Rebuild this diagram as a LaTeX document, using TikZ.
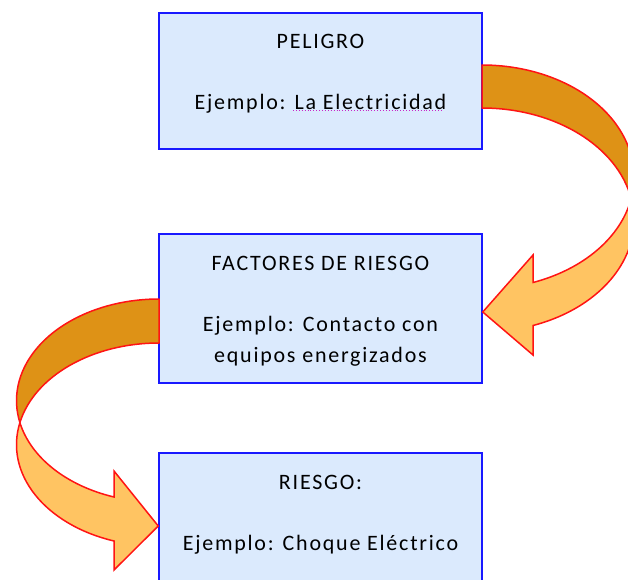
\documentclass[tikz,border=0pt]{standalone}
\usepackage{fontspec}
\setmainfont{Carlito}
\newfontfamily\fuentecaja{Carlito}[LetterSpace=8]
\usepackage{xcolor}
\usetikzlibrary{positioning}

\definecolor{fondocaja}{RGB}{219,234,253}
\definecolor{bordecaja}{RGB}{25,25,255}
\definecolor{naranjaosc}{RGB}{222,146,22}
\definecolor{naranjacla}{RGB}{255,196,98}
\definecolor{rojoborde}{RGB}{255,20,20}
\definecolor{subrayado}{RGB}{200,40,200}

\begin{document}
\begin{tikzpicture}
               [x=1pt, y=1pt,
                caja/.style = {draw=bordecaja, line width=1.5pt, fill=fondocaja, minimum width=323pt, inner sep=0pt},
                texto/.style = {align=center, inner sep=0pt, font=\fuentecaja\fontsize{22}{30.8}\selectfont},
                atras/.style = {draw=rojoborde, line width=1.5pt, fill=naranjaosc, line join=round},
                frente/.style = {draw=rojoborde, line width=1.5pt, fill=naranjacla}]
                \useasboundingbox (0,0) rectangle (628,-579);
                \clip (0,0) rectangle (628,-579);
                % Cajas
                \node[caja, minimum height=136pt] (peligro) at (320.5,-81) {};
                \node[caja, minimum height=149pt] (factores) at (320.5,-308.5) {};
                \node[caja, minimum height=150pt] (riesgo) at (320.5,-528) {};
                % Textos de las cajas
                \node[texto, below=21.5pt of peligro.north] (peligro-texto) {PELIGRO\\[30.8pt]Ejemplo: La Electricidad};
                \node[texto, below=22.5pt of factores.north] (factores-texto) {FACTORES DE RIESGO\\[30.8pt]Ejemplo: Contacto con\\equipos energizados};
                \node[texto, below=22.5pt of riesgo.north] (riesgo-texto) {RIESGO:\\[30.8pt]Ejemplo: Choque Eléctrico};
                % Subrayado punteado
                \coordinate (sub-a) at (293,-110);
                \coordinate (sub-b) at (443,-110);
                \draw[subrayado, line width=0.9pt, dotted] (sub-a) -- (sub-b);
                % Flecha de peligro a factores
                \draw[atras] (482,-65) arc[start angle=90, end angle=-11.07, x radius=152, y radius=112]
                    arc[start angle=11.07, end angle=90, x radius=152, y radius=112] -- cycle;
                \draw[frente] (631.2,-198.5) arc[start angle=-11.07, end angle=-70.40, x radius=152, y radius=112]
                    -- (533,-255) -- (factores.east |- 0,-312) -- (533,-355) -- (533,-325.5)
                    arc[start angle=-70.40, end angle=11.07, x radius=152, y radius=112] -- cycle;
                % Flecha de factores a riesgo
                \draw[atras] (159,-299) arc[start angle=90, end angle=192.51, x radius=142.5, y radius=101.6]
                    arc[start angle=167.49, end angle=90, x radius=142.5, y radius=101.6] -- cycle;
                \draw[frente] (19.9,-422.6) arc[start angle=192.51, end angle=251.59, x radius=142.5, y radius=101.6]
                    -- (114,-471) -- (riesgo.west |- 0,-526) -- (114,-570) -- (114,-541)
                    arc[start angle=251.59, end angle=167.49, x radius=142.5, y radius=101.6] -- cycle;
            \end{tikzpicture}
\end{document}
